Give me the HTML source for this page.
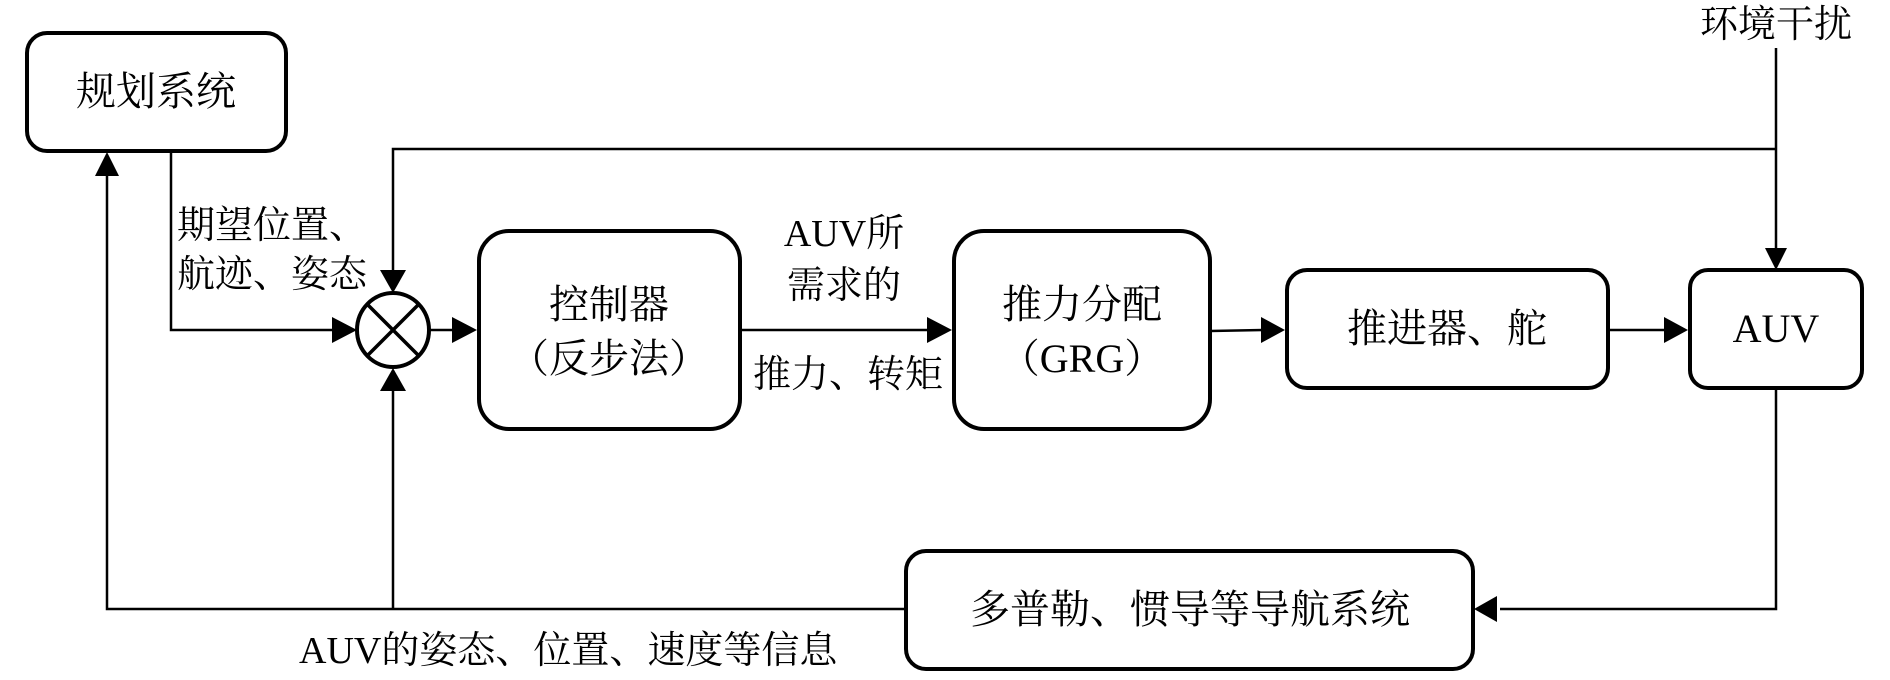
<!DOCTYPE html>
<html><head><meta charset="utf-8"><style>
html,body{margin:0;padding:0;background:#fff;}
svg text{font-family:"Liberation Serif","Noto Serif CJK SC",serif;fill:#000;}
</style></head><body>
<svg width="1890" height="675" viewBox="0 0 1890 675" xmlns="http://www.w3.org/2000/svg">
<defs>
<marker id="a" markerWidth="10" markerHeight="10" refX="10" refY="5" orient="auto" markerUnits="userSpaceOnUse" viewBox="0 0 10 10">
</marker>
</defs>
<g fill="none" stroke="#000" stroke-width="4">
<rect x="27" y="33" width="259" height="118" rx="20"/>
<rect x="479" y="231" width="261" height="198" rx="30"/>
<rect x="954" y="231" width="256" height="198" rx="30"/>
<rect x="1287" y="270" width="321" height="118" rx="20"/>
<rect x="1690" y="270" width="172" height="118" rx="18"/>
<rect x="906" y="551" width="567" height="118" rx="20"/>
<ellipse cx="393" cy="330" rx="36" ry="37"/>
<line x1="367" y1="304" x2="419" y2="356" stroke-width="3.5"/>
<line x1="419" y1="304" x2="367" y2="356" stroke-width="3.5"/>
</g>
<g fill="none" stroke="#000" stroke-width="2.5">
<polyline points="1776,48 1776,250"/>
<polyline points="1776,149 393,149 393,272"/>
<polyline points="171,151 171,330 334,330"/>
<polyline points="429,330 455,330"/>
<polyline points="740,330 930,330"/>
<polyline points="1210,331 1263,330"/>
<polyline points="1608,330 1666,330"/>
<polyline points="1776,388 1776,609 1500,609"/>
<polyline points="906,609 107,609 107,175"/>
<polyline points="393,609 393,391"/>
</g>
<g fill="#000">
<polygon points="1765,248 1787,248 1776,270"/>
<polygon points="380,270 406,270 393,293"/>
<polygon points="332,317 332,343 357,330"/>
<polygon points="452,317 452,343 477,330"/>
<polygon points="927,317 927,343 952,330"/>
<polygon points="1261,317 1261,343 1285,330"/>
<polygon points="1664,317 1664,343 1688,330"/>
<polygon points="1497,596 1497,622 1474,609"/>
<polygon points="95,176 119,176 107,152"/>
<polygon points="380,391 406,391 393,368"/>
</g>
<g font-size="38">
<text x="1776" y="37" text-anchor="middle">环境干扰</text>
<text x="156" y="105" text-anchor="middle" font-size="40">规划系统</text>
<text x="177" y="238">期望位置、</text>
<text x="177" y="287">航迹、姿态</text>
<text x="609" y="318" text-anchor="middle" font-size="40">控制器</text>
<text x="609" y="372" text-anchor="middle" font-size="40">（反步法）</text>
<text x="844" y="246" text-anchor="middle">AUV所</text>
<text x="844" y="298" text-anchor="middle">需求的</text>
<text x="848" y="387" text-anchor="middle">推力、转矩</text>
<text x="1082" y="318" text-anchor="middle" font-size="40">推力分配</text>
<text x="1082" y="372" text-anchor="middle" font-size="40">（GRG）</text>
<text x="1447" y="342" text-anchor="middle" font-size="40">推进器、舵</text>
<text x="1776" y="342" text-anchor="middle" font-size="40">AUV</text>
<text x="1190" y="623" text-anchor="middle" font-size="40">多普勒、惯导等导航系统</text>
<text x="299" y="663">AUV的姿态、位置、速度等信息</text>
</g>
</svg>
</body></html>
